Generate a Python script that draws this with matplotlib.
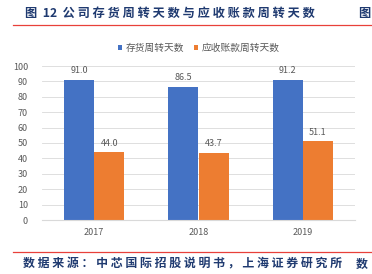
import matplotlib.pyplot as plt
import numpy as np

plt.rcParams['font.family'] = ['Noto Sans CJK SC', 'DejaVu Sans']

years = ["2017", "2018", "2019"]
inventory_days = [91.0, 86.5, 91.2]
receivable_days = [44.0, 43.7, 51.1]
series_names = ["存货周转天数", "应收账款周转天数"]

blue = "#4472C4"
orange = "#ED7D31"
navy = "#1F3A70"
grey = "#595959"

fig = plt.figure(figsize=(3.72, 2.74), dpi=100)

# title + red rules
fig.text(25 / 372, 1 - 13 / 274, "图  12  公 司 存 货 周 转 天 数 与 应 收 账 款 周 转 天 数",
         color=navy, fontsize=8.8, fontweight="bold", va="center", ha="left")
fig.text(358 / 372, 1 - 13 / 274, "图", color=navy, fontsize=8.8,
         fontweight="bold", va="center", ha="left")
fig.add_artist(plt.Line2D([13 / 372, 1], [1 - 25 / 274] * 2, color="#E8403A", lw=0.9))
fig.add_artist(plt.Line2D([13 / 372, 1], [1 - 252 / 274] * 2, color="#E8403A", lw=0.9))
fig.text(23 / 372, 1 - 264 / 274, "数 据 来 源 ： 中 芯 国 际 招 股 说 明 书 ， 上 海 证 券 研 究 所",
         color=navy, fontsize=8.6, fontstyle="italic", fontweight="bold", va="center", ha="left")
fig.text(356 / 372, 1 - 264 / 274, "数", color=navy, fontsize=8.6,
         fontstyle="italic", fontweight="bold", va="center", ha="left")

ax = fig.add_axes([42 / 372, 1 - 220 / 274, 313 / 372, 154 / 274])
x = np.arange(len(years))
w = 0.29
b1 = ax.bar(x - w / 2, inventory_days, w, color=blue, label=series_names[0])
b2 = ax.bar(x + w / 2, receivable_days, w, color=orange, label=series_names[1])
for bars, vals in ((b1, inventory_days), (b2, receivable_days)):
    for r, v in zip(bars, vals):
        ax.text(r.get_x() + r.get_width() / 2, v + 3, f"{v:.1f}",
                ha="center", va="bottom", fontsize=6.5, color=grey)

ax.set_ylim(0, 100)
ax.set_yticks(range(0, 101, 10))
ax.set_xlim(-0.5, 2.5)
ax.set_xticks(x)
ax.set_xticklabels(years)
ax.tick_params(length=0, labelsize=6.5, colors=grey)
ax.tick_params(axis="x", pad=6)
ax.tick_params(axis="y", pad=10)
ax.yaxis.grid(True, color="#D9D9D9", lw=0.6)
ax.set_axisbelow(True)
for s in ("top", "right", "left"):
    ax.spines[s].set_visible(False)
ax.spines["bottom"].set_color("#D9D9D9")

ax.legend(loc="lower center", bbox_to_anchor=(0.5, 1.06), ncol=2, frameon=False,
          fontsize=7, handlelength=0.5, handleheight=0.5, handletextpad=0.3,
          columnspacing=1.0, labelcolor=grey, borderaxespad=0)

fig.savefig("out.png", dpi=100)
